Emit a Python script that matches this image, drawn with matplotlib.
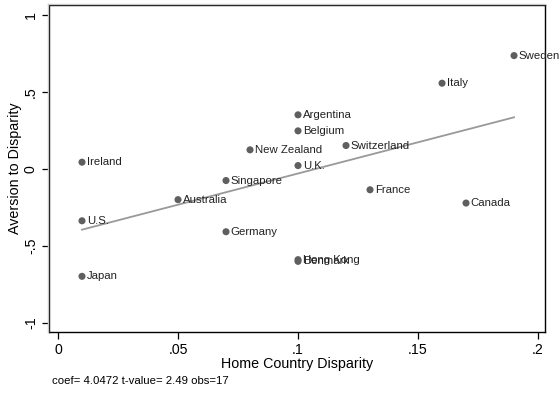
import numpy as np
import matplotlib
matplotlib.use("Agg")
import matplotlib.pyplot as plt
from matplotlib.lines import Line2D

plt.rcParams["font.family"] = ["Liberation Sans", "DejaVu Sans"]

countries = ["Sweden", "Italy", "Argentina", "Belgium", "Switzerland", "U.K.",
             "France", "Canada", "Hong Kong", "Denmark", "New Zealand", "Ireland",
             "Singapore", "Australia", "U.S.", "Germany", "Japan"]
home_disparity = [0.19, 0.16, 0.10, 0.10, 0.12, 0.10,
                  0.13, 0.17, 0.10, 0.10, 0.08, 0.01,
                  0.07, 0.05, 0.01, 0.07, 0.01]
aversion = [0.734, 0.555, 0.350, 0.246, 0.151, 0.021,
            -0.136, -0.222, -0.589, -0.600, 0.123, 0.043,
            -0.076, -0.200, -0.337, -0.408, -0.697]

slope = 4.0472
t_value = 2.49

x_ticks = [0, 0.05, 0.10, 0.15, 0.20]
x_tick_labels = ["0", ".05", ".1", ".15", ".2"]
y_ticks = [-1, -0.5, 0, 0.5, 1]
y_tick_labels = ["-1", "-.5", "0", ".5", "1"]

x = np.array(home_disparity)
y = np.array(aversion)
intercept = y.mean() - slope * x.mean()

W, H = 560, 393
fig = plt.figure(figsize=(W / 100, H / 100), dpi=100)
left, right, top, bottom = 49, 545, 5, 332
ax = fig.add_axes([left / W, 1 - bottom / H, (right - left) / W, (bottom - top) / H])

ax.set_xlim(-0.00375, 0.2029)
ax.set_ylim(-1.058, 1.062)

# fitted line
xf = np.array([x.min(), x.max()])
ax.plot(xf, intercept + slope * xf, color="#999999", lw=1.3, zorder=2)

# country points and labels
ax.scatter(x, y, s=26, color="#5f5f5f", edgecolors="none", zorder=3)
for cx, cy, name in zip(x, y, countries):
    ax.annotate(name, (cx, cy), xytext=(3.4, 0), textcoords="offset points",
                ha="left", va="center", fontsize=8.2, color="#222222",
                zorder=4, annotation_clip=False)

ax.set_xticks(x_ticks)
ax.set_xticklabels(x_tick_labels)
ax.set_yticks(y_ticks)
ax.set_yticklabels(y_tick_labels, rotation=90, va="center")
ax.tick_params(axis="both", direction="out", length=5, width=0.9,
               labelsize=10.2, colors="black", pad=3)

for s in ax.spines.values():
    s.set_linewidth(1.0)
    s.set_color("black")

ax.set_xlabel("Home Country Disparity", fontsize=10.3, labelpad=0)
ax.set_ylabel("Aversion to Disparity", fontsize=10.3, labelpad=1)

# light shadow along top and left edges of the frame
fig.add_artist(Line2D([(left - 1.5) / W, (right) / W], [1 - (top - 1.5) / H] * 2,
                      color="#c8c8c8", lw=1.0))
fig.add_artist(Line2D([(left - 1.5) / W] * 2, [1 - (top - 1.5) / H, 1 - bottom / H],
                      color="#c8c8c8", lw=1.0))

fig.text(52 / W, 1 - 381 / H,
         f"coef= {slope:.4f} t-value= {t_value:.2f} obs={len(x)}",
         fontsize=8.2, ha="left", va="center")

fig.savefig("out.png", dpi=100)
